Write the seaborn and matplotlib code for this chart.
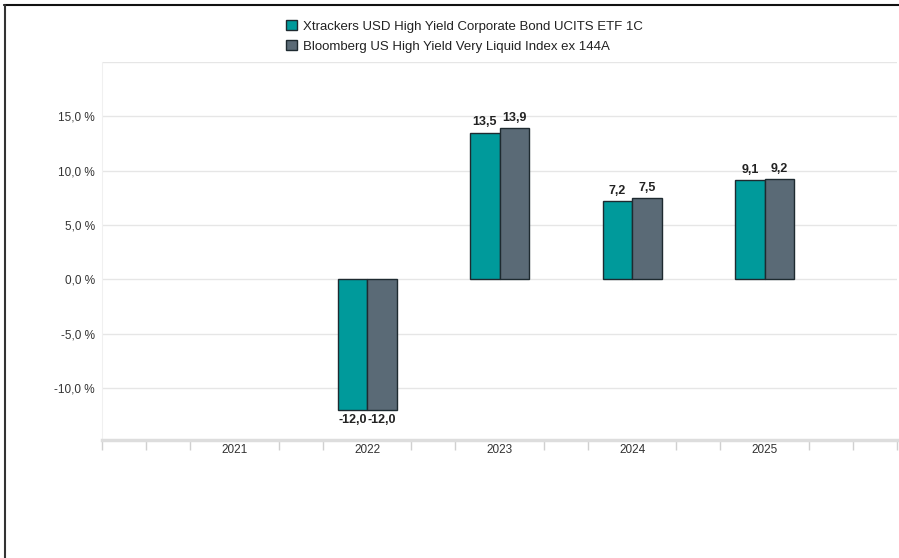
import pandas as pd
import matplotlib.pyplot as plt
import seaborn as sns
from matplotlib.lines import Line2D
from matplotlib.patches import Patch

# Data
years = ['2021', '2022', '2023', '2024', '2025']
fund_name = 'Xtrackers USD High Yield Corporate Bond UCITS ETF 1C'
index_name = 'Bloomberg US High Yield Very Liquid Index ex 144A'
fund_values = [None, -12.0, 13.5, 7.2, 9.1]
index_values = [None, -12.0, 13.9, 7.5, 9.2]
y_ticks = [-10, -5, 0, 5, 10, 15]

teal = '#009a9b'
slate = '#5a6a76'

df = pd.DataFrame({
    'Jahr': years * 2,
    'Serie': [fund_name] * len(years) + [index_name] * len(years),
    'Wert': fund_values + index_values,
})

sns.set_style('white')
plt.rcParams['font.family'] = ['Liberation Sans', 'DejaVu Sans']

fig = plt.figure(figsize=(8.99, 5.58), dpi=100)
ax = fig.add_axes([0.1135, 0.2115, 0.8845, 0.6775])

sns.barplot(data=df, x='Jahr', y='Wert', hue='Serie', order=years,
            hue_order=[fund_name, index_name], palette=[teal, slate],
            width=0.445, edgecolor='#1e2a30', linewidth=1.0, ax=ax,
            legend=False, errorbar=None, saturation=1)

for cont in ax.containers:
    labels = []
    for bar in cont:
        h = bar.get_height()
        labels.append('' if pd.isna(h) else f'{h:.1f}'.replace('.', ','))
    ax.bar_label(cont, labels=labels, padding=3, fontsize=9,
                 fontweight='bold', color='#222222')

ax.set_xlim(-1, 5)
ax.set_ylim(-14.8, 20)
ax.set_yticks(y_ticks)
ax.set_yticklabels([f'{v:.1f} %'.replace('.', ',') for v in y_ticks])
ax.set_xticks(range(len(years)))
ax.set_xticklabels(years)
ax.set_xticks([i / 3 for i in range(-3, 16) if i % 3 != 0 or i in (-3, 15)],
              minor=True)
ax.tick_params(axis='x', which='major', length=0, labelsize=8.5,
               colors='#333333', pad=3)
ax.tick_params(axis='x', which='minor', bottom=True, length=7,
               color='#d0d0d0', width=1)
ax.tick_params(axis='y', length=0, labelsize=8.5, colors='#333333', pad=5)
ax.set_xlabel('')
ax.set_ylabel('')

for v in y_ticks + [20]:
    ax.axhline(v, color='#e6e6e6', linewidth=1, zorder=0)

for side in ['top', 'right']:
    ax.spines[side].set_visible(False)
ax.spines['left'].set_color('#f0f0f0')
ax.spines['bottom'].set_color('#dddddd')
ax.spines['bottom'].set_linewidth(2.5)

handles = [Patch(facecolor=teal, edgecolor='#1e2a30', linewidth=1),
           Patch(facecolor=slate, edgecolor='#1e2a30', linewidth=1)]
fig.legend(handles, [fund_name, index_name], loc='upper left',
           bbox_to_anchor=(0.305, 0.985), frameon=False, fontsize=9.5,
           handlelength=0.8, handleheight=0.8, handletextpad=0.5,
           labelspacing=0.55, labelcolor='#222222')

# screenshot frame on top and left edges
fig.add_artist(Line2D([0.005, 1.0], [0.991, 0.991], color='#111111',
                      linewidth=1.5, transform=fig.transFigure))
fig.add_artist(Line2D([0.006, 0.006], [0.0, 0.991], color='#333333',
                      linewidth=1.5, transform=fig.transFigure))

fig.savefig('out.png', dpi=100)
